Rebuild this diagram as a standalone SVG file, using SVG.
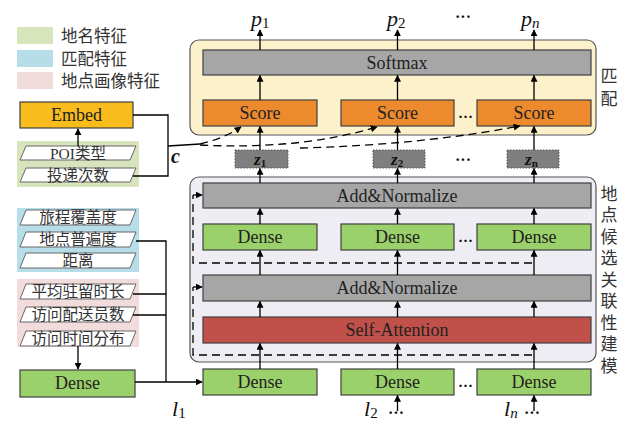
<svg xmlns="http://www.w3.org/2000/svg" width="627" height="421" viewBox="0 0 627 421">
  <defs>
    <marker id="ah" viewBox="0 0 10 10" refX="9" refY="5" markerWidth="7" markerHeight="7" orient="auto" markerUnits="userSpaceOnUse">
      <path d="M0,0 L10,5 L0,10 z" fill="#000"/>
    </marker>
    <style>
      .en { font-family: "Liberation Serif", "Times New Roman", serif; fill: #222; font-size: 18px; }
      .zh { font-family: "Liberation Serif", "Noto Sans CJK SC", serif; fill: #333; }
      .bx { stroke: #404040; stroke-width: 1.2; }
      .gray { fill: #A6A6A6; }
      .score { fill: #ED8A2E; }
      .dense { fill: #9BD16A; }
      .attn { fill: #C1504A; }
      .para { fill: #fff; stroke: #666; stroke-width: 1; }
      .ln { stroke: #000; stroke-width: 1.3; fill: none; }
      .arr { stroke: #000; stroke-width: 1.3; fill: none; marker-end: url(#ah); }
      .dash { stroke: #000; stroke-width: 1.3; fill: none; stroke-dasharray: 8 5; }
      .zbox { fill: #7F7F7F; stroke: #555; stroke-width: 1; stroke-dasharray: 1.5 1.5; }
      .mi { font-family: "Liberation Serif", "Times New Roman", serif; font-style: italic; fill: #111; }
      .dots { font-family: "Liberation Serif", serif; font-weight: bold; fill: #111; text-anchor: middle; }
    </style>
  </defs>

  <rect width="627" height="421" fill="#fff"/>

  <!-- legend -->
  <g id="legend">
    <rect x="17" y="27" width="36" height="17" fill="#D8E4BC"/>
    <rect x="17" y="50" width="36" height="17" fill="#B7DEE8"/>
    <rect x="17" y="72" width="36" height="17" fill="#F2DCDB"/>
    <text class="zh" x="61" y="42" font-size="16.5">地名特征</text>
    <text class="zh" x="61" y="65" font-size="16.5">匹配特征</text>
    <text class="zh" x="61" y="87" font-size="16.5">地点画像特征</text>
  </g>

  <!-- feature groups -->
  <g id="place-name-features">
    <rect x="17" y="141" width="122" height="46" fill="#D8E4BC"/>
    <polygon class="para" points="26,146 136,146 130,160 20,160"/>
    <text class="zh" x="78" y="159" font-size="15.5" text-anchor="middle">POI类型</text>
    <polygon class="para" points="26,168 136,168 130,182 20,182"/>
    <text class="zh" x="78" y="181" font-size="15.5" text-anchor="middle">投递次数</text>
  </g>

  <g id="match-features">
    <rect x="17" y="208" width="122" height="64" fill="#B7DEE8"/>
    <polygon class="para" points="26,210 136,210 130,225 20,225"/>
    <text class="zh" x="78" y="223" font-size="15.5" text-anchor="middle">旅程覆盖度</text>
    <polygon class="para" points="26,232 136,232 130,247 20,247"/>
    <text class="zh" x="78" y="245" font-size="15.5" text-anchor="middle">地点普遍度</text>
    <polygon class="para" points="26,253 136,253 130,268 20,268"/>
    <text class="zh" x="78" y="266" font-size="15.5" text-anchor="middle">距离</text>
  </g>

  <g id="profile-features">
    <rect x="17" y="279" width="122" height="68" fill="#F2DCDB"/>
    <polygon class="para" points="26,284 136,284 130,299 20,299"/>
    <text class="zh" x="78" y="297" font-size="15.5" text-anchor="middle">平均驻留时长</text>
    <polygon class="para" points="26,307 136,307 130,322 20,322"/>
    <text class="zh" x="78" y="320" font-size="15.5" text-anchor="middle">访问配送员数</text>
    <polygon class="para" points="26,331 136,331 130,346 20,346"/>
    <text class="zh" x="78" y="344" font-size="15.5" text-anchor="middle">访问时间分布</text>
  </g>

  <g id="embed">
    <rect class="bx" x="20" y="102" width="113" height="26" fill="#F8BD1C"/>
    <text class="en" x="76.5" y="121" text-anchor="middle">Embed</text>
  </g>

  <g id="dense-left">
    <rect class="bx dense" x="20" y="370" width="115" height="27"/>
    <text class="en" x="77.5" y="389" text-anchor="middle">Dense</text>
  </g>

  <!-- matching block -->
  <g id="matching">
    <rect x="190" y="40" width="406" height="95" rx="9" fill="#FDF1CC" stroke="#555" stroke-width="1.2"/>
    <text class="zh" x="609" y="82" font-size="17" text-anchor="middle">匹</text>
    <text class="zh" x="609" y="105" font-size="17" text-anchor="middle">配</text>
  </g>
  <g id="softmax">
    <rect class="bx gray" x="203" y="50" width="388" height="25"/>
    <text class="en" x="397" y="69" text-anchor="middle">Softmax</text>
  </g>
  <g id="score-1">
    <rect class="bx score" x="203" y="100" width="114" height="26"/>
    <text class="en" x="260" y="119" text-anchor="middle">Score</text>
  </g>
  <g id="score-2">
    <rect class="bx score" x="341" y="100" width="113" height="26"/>
    <text class="en" x="397.5" y="119" text-anchor="middle">Score</text>
  </g>
  <g id="score-n">
    <rect class="bx score" x="477" y="100" width="114" height="26"/>
    <text class="en" x="534" y="119" text-anchor="middle">Score</text>
  </g>

  <!-- candidate association block -->
  <g id="association">
    <rect x="190" y="177" width="406" height="185" rx="9" fill="#EEEDF4" stroke="#555" stroke-width="1.2"/>
    <g class="zh" font-size="17" text-anchor="middle">
      <text x="609" y="200">地</text>
      <text x="609" y="221">点</text>
      <text x="609" y="243">候</text>
      <text x="609" y="264">选</text>
      <text x="609" y="286">关</text>
      <text x="609" y="307">联</text>
      <text x="609" y="329">性</text>
      <text x="609" y="350">建</text>
      <text x="609" y="372">模</text>
    </g>
  </g>
  <g id="addnorm-1">
    <rect class="bx gray" x="203" y="183" width="388" height="25"/>
    <text class="en" x="397" y="202" text-anchor="middle">Add&amp;Normalize</text>
  </g>
  <g id="dense-u1">
    <rect class="bx dense" x="203" y="224" width="114" height="26"/>
    <text class="en" x="260" y="243" text-anchor="middle">Dense</text>
  </g>
  <g id="dense-u2">
    <rect class="bx dense" x="341" y="224" width="113" height="26"/>
    <text class="en" x="397.5" y="243" text-anchor="middle">Dense</text>
  </g>
  <g id="dense-un">
    <rect class="bx dense" x="477" y="224" width="114" height="26"/>
    <text class="en" x="534" y="243" text-anchor="middle">Dense</text>
  </g>
  <g id="addnorm-2">
    <rect class="bx gray" x="203" y="275" width="388" height="26"/>
    <text class="en" x="397" y="294" text-anchor="middle">Add&amp;Normalize</text>
  </g>
  <g id="self-attention">
    <rect class="bx attn" x="203" y="317" width="388" height="26"/>
    <text class="en" x="397" y="336" text-anchor="middle">Self-Attention</text>
  </g>
  <g id="dense-b1">
    <rect class="bx dense" x="203" y="369" width="114" height="26"/>
    <text class="en" x="260" y="388" text-anchor="middle">Dense</text>
  </g>
  <g id="dense-b2">
    <rect class="bx dense" x="341" y="369" width="113" height="26"/>
    <text class="en" x="397.5" y="388" text-anchor="middle">Dense</text>
  </g>
  <g id="dense-bn">
    <rect class="bx dense" x="477" y="369" width="114" height="26"/>
    <text class="en" x="534" y="388" text-anchor="middle">Dense</text>
  </g>

  <!-- latent vectors -->
  <g id="z-1">
    <rect class="zbox" x="235" y="150" width="53" height="18"/>
    <text class="mi" x="254" y="165" font-size="17" font-weight="bold">z<tspan font-size="11" font-style="normal" dy="2">1</tspan></text>
  </g>
  <g id="z-2">
    <rect class="zbox" x="373" y="150" width="52" height="18"/>
    <text class="mi" x="391" y="165" font-size="17" font-weight="bold">z<tspan font-size="11" font-style="normal" dy="2">2</tspan></text>
  </g>
  <g id="z-n">
    <rect class="zbox" x="507" y="150" width="52" height="18"/>
    <text class="mi" x="525" y="165" font-size="17" font-weight="bold">z<tspan font-size="11" font-style="normal" dy="2">n</tspan></text>
  </g>

  <!-- labels -->
  <g id="labels">
    <text class="mi" x="251" y="26" font-size="22">p<tspan font-size="15" font-style="normal" dy="2">1</tspan></text>
    <text class="mi" x="387" y="26" font-size="22">p<tspan font-size="15" font-style="normal" dy="2">2</tspan></text>
    <text class="mi" x="521" y="26" font-size="22">p<tspan font-size="15" dy="2">n</tspan></text>
    <text class="dots" x="463" y="22" font-size="16">···</text>
    <text class="dots" x="463" y="165" font-size="16">···</text>
    <text class="dots" x="465.5" y="122" font-size="15">···</text>
    <text class="dots" x="465.5" y="246" font-size="15">···</text>
    <text class="dots" x="465.5" y="391" font-size="15">···</text>
    <text class="mi" x="172" y="416" font-size="22">l<tspan font-size="15" font-style="normal" dy="2">1</tspan></text>
    <text class="mi" x="364" y="416" font-size="22">l<tspan font-size="15" font-style="normal" dy="2">2</tspan></text>
    <text class="mi" x="504" y="416" font-size="22">l<tspan font-size="15" dy="2">n</tspan></text>
    <text class="dots" x="396" y="418" font-size="16">···</text>
    <text class="dots" x="532" y="418" font-size="16">···</text>
    <text class="mi" x="171" y="163" font-size="20" font-weight="bold">c</text>
  </g>

  <!-- connectors -->
  <g id="connectors">
    <!-- feature inputs -->
    <line class="arr" x1="78" y1="146" x2="78" y2="129"/>
    <line class="arr" x1="78" y1="346" x2="78" y2="369"/>
    <polyline class="ln" points="133,115 168,115 168,176 133,176"/>
    <line class="ln" x1="168" y1="146" x2="200" y2="144"/>
    <polyline class="ln" points="136,241 166,241 166,382"/>
    <line class="ln" x1="133" y1="294" x2="166" y2="294"/>
    <line class="ln" x1="133" y1="315" x2="166" y2="315"/>
    <polyline class="arr" points="135,382 202,382"/>

    <!-- c to score (dashed) -->
    <path class="dash" marker-end="url(#ah)" d="M200,144 Q225,138 241,127"/>
    <path class="dash" marker-end="url(#ah)" d="M200,145 Q300,150 377,127"/>
    <path class="dash" marker-end="url(#ah)" d="M300,148 Q420,145 520,126"/>

    <!-- columns -->
    <g>
      <line class="arr" x1="260" y1="50" x2="260" y2="30"/>
      <line class="arr" x1="260" y1="100" x2="260" y2="75.5"/>
      <line class="arr" x1="260" y1="150" x2="260" y2="126.5"/>
      <line class="arr" x1="260" y1="183" x2="260" y2="168.5"/>
      <line class="arr" x1="260" y1="224" x2="260" y2="208.5"/>
      <line class="arr" x1="260" y1="275" x2="260" y2="250.5"/>
      <line class="arr" x1="260" y1="317" x2="260" y2="301.5"/>
      <line class="arr" x1="260" y1="369" x2="260" y2="343.5"/>
    </g>
    <g>
      <line class="arr" x1="397.5" y1="50" x2="397.5" y2="30"/>
      <line class="arr" x1="397.5" y1="100" x2="397.5" y2="75.5"/>
      <line class="arr" x1="397.5" y1="150" x2="397.5" y2="126.5"/>
      <line class="arr" x1="397.5" y1="183" x2="397.5" y2="168.5"/>
      <line class="arr" x1="397.5" y1="224" x2="397.5" y2="208.5"/>
      <line class="arr" x1="397.5" y1="275" x2="397.5" y2="250.5"/>
      <line class="arr" x1="397.5" y1="317" x2="397.5" y2="301.5"/>
      <line class="arr" x1="397.5" y1="369" x2="397.5" y2="343.5"/>
      <line class="arr" x1="397.5" y1="411" x2="397.5" y2="395.5"/>
    </g>
    <g>
      <line class="arr" x1="534" y1="50" x2="534" y2="30"/>
      <line class="arr" x1="534" y1="100" x2="534" y2="75.5"/>
      <line class="arr" x1="534" y1="150" x2="534" y2="126.5"/>
      <line class="arr" x1="534" y1="183" x2="534" y2="168.5"/>
      <line class="arr" x1="534" y1="224" x2="534" y2="208.5"/>
      <line class="arr" x1="534" y1="275" x2="534" y2="250.5"/>
      <line class="arr" x1="534" y1="317" x2="534" y2="301.5"/>
      <line class="arr" x1="534" y1="369" x2="534" y2="343.5"/>
      <line class="arr" x1="534" y1="411" x2="534" y2="395.5"/>
    </g>

    <!-- residual connections -->
    <polyline class="dash" points="532,263 193,263 193,195"/>
    <line class="arr" x1="193" y1="195" x2="202" y2="195"/>
    <polyline class="dash" points="532,355 193,355 193,287"/>
    <line class="arr" x1="193" y1="287" x2="202" y2="287"/>
  </g>
</svg>
